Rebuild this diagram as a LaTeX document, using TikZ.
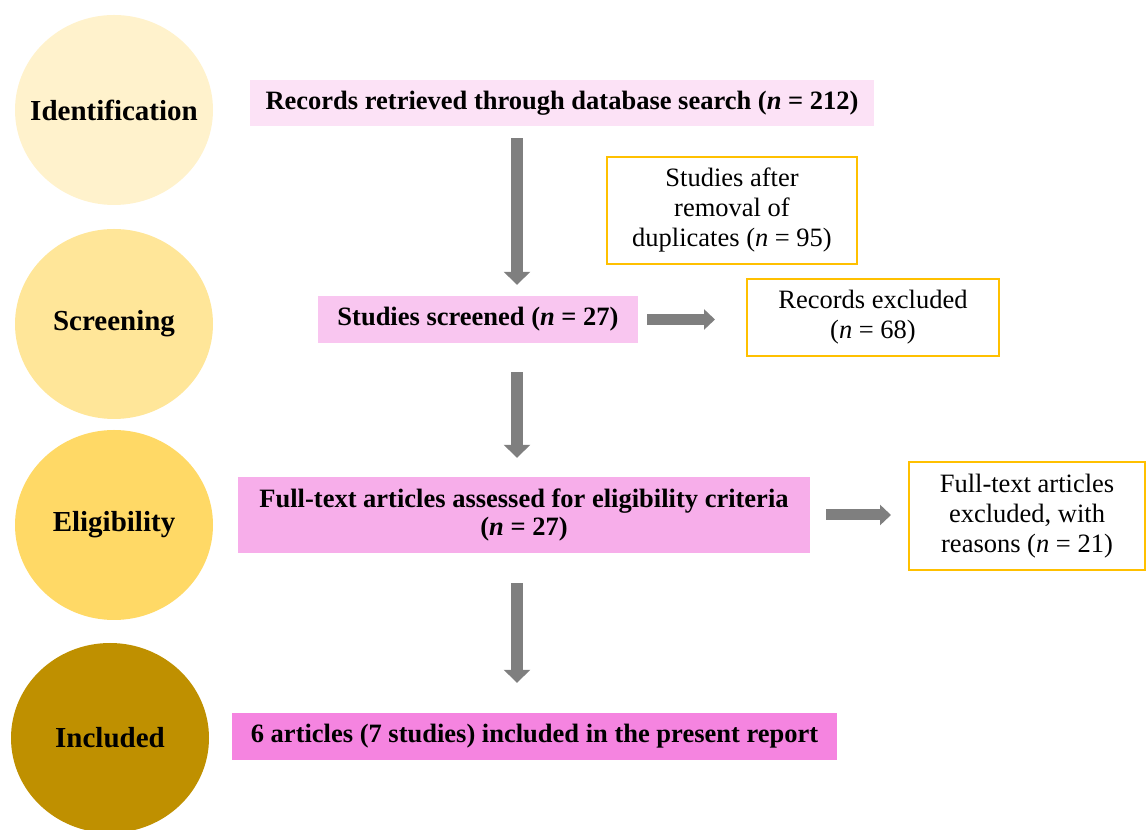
\documentclass[tikz,border=0pt]{standalone}
\usepackage{fontspec}
\setmainfont{Liberation Serif}
\usetikzlibrary{shapes.geometric,arrows.meta}

\tikzset{
	phase/.style={ellipse, minimum width=198pt, minimum height=190pt, inner sep=-25pt,
		font=\fontsize{29}{32}\selectfont\bfseries},
	stagebox/.style={rectangle, inner sep=0pt, align=center,
		font=\fontsize{26.5}{28}\selectfont\bfseries},
	sidebox/.style={rectangle, draw=goldLine, line width=2pt, fill=white, inner sep=0pt,
		align=center, font=\fontsize{26.5}{30}\selectfont},
	downarrow/.style={draw=arrowGray, line width=12pt, -{Triangle[width=26pt,length=13pt]}},
	sidearrow/.style={draw=arrowGray, line width=11pt, -{Triangle[width=20pt,length=11pt]}}
}

\begin{document}
\begin{tikzpicture}[x=1pt,y=1pt]

		\definecolor{identFill}{RGB}{255,242,204}
		\definecolor{screenFill}{RGB}{255,230,153}
		\definecolor{eligFill}{RGB}{255,217,102}
		\definecolor{inclFill}{RGB}{191,144,0}
		\definecolor{pinkA}{RGB}{252,226,246}
		\definecolor{pinkB}{RGB}{249,198,240}
		\definecolor{pinkC}{RGB}{247,174,234}
		\definecolor{pinkD}{RGB}{245,132,224}
		\definecolor{goldLine}{RGB}{255,192,0}
		\definecolor{arrowGray}{RGB}{127,127,127}

		\useasboundingbox (0,0) rectangle (1147,829);

		%\draw[step=50,gray,very thin] (0,0) grid (1147,829);

		% phases on the left
		\node[phase, fill=identFill] (ident) at (114,719) {Identification};
		\node[phase, fill=screenFill] (screen) at (114,505) {Screening};
		\node[phase, fill=eligFill] (elig) at (114,304) {Eligibility};
		\node[phase, fill=inclFill] (incl) at (110,91) {Included};

		% main column
		\node[stagebox, fill=pinkA, minimum width=624pt, minimum height=46pt] (records) at (562,726)
			{Records retrieved through database search (\textit{n} = 212)};
		\node[stagebox, fill=pinkB, minimum width=320pt, minimum height=47pt] (screened) at (478,509.5)
			{Studies screened (\textit{n} = 27)};
		\node[stagebox, fill=pinkC, minimum width=572pt, minimum height=76pt] (fulltext) at (524,314)
			{Full-text articles assessed for eligibility criteria\\(\textit{n} = 27)};
		\node[stagebox, fill=pinkD, minimum width=605pt, minimum height=47pt] (included) at (534.5,92.5)
			{6 articles (7 studies) included in the present report};

		% side boxes
		\node[sidebox, minimum width=250pt, minimum height=107pt] (dupl) at (732,618.5)
			{Studies after\\removal of\\duplicates (\textit{n} = 95)};
		\node[sidebox, minimum width=252pt, minimum height=77pt] (recexcl) at (873,511.5)
			{Records excluded\\(\textit{n} = 68)};
		\node[sidebox, minimum width=236pt, minimum height=108pt] (ftexcl) at (1027,313)
			{Full-text articles\\excluded, with\\reasons (\textit{n} = 21)};

		% arrows
		\coordinate (flowcol) at (517,0);
		\draw[downarrow, shorten <=12pt, shorten >=11pt] (records.south -| flowcol) -- (screened.north -| flowcol);
		\draw[downarrow, shorten <=29pt, shorten >=19pt] (screened.south -| flowcol) -- (fulltext.north -| flowcol);
		\draw[downarrow, shorten <=30pt, shorten >=30pt] (fulltext.south -| flowcol) -- (included.north -| flowcol);
		\draw[sidearrow, shorten <=9pt, shorten >=31pt] (screened.east) -- (screened.east -| recexcl.west);
		\draw[sidearrow, shorten <=16pt, shorten >=17pt] (fulltext.east) -- (fulltext.east -| ftexcl.west);

	\end{tikzpicture}
\end{document}
